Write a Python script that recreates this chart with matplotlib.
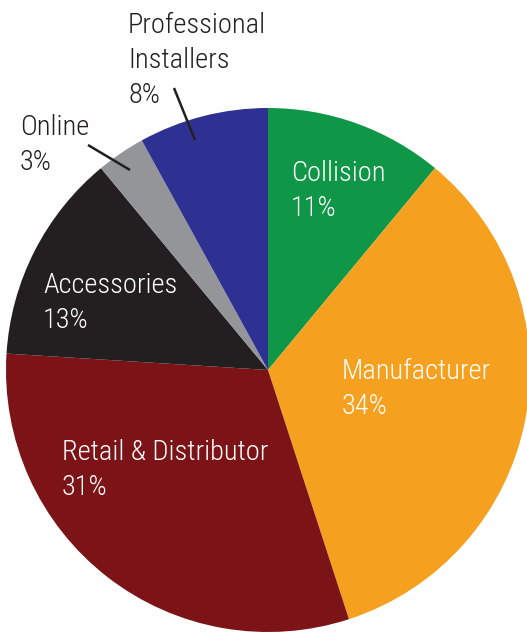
import matplotlib
matplotlib.use("Agg")
import matplotlib.pyplot as plt
from matplotlib import font_manager

# data
categories = ["Collision", "Manufacturer", "Retail & Distributor",
              "Accessories", "Online", "Professional\nInstallers"]
shares = [11, 34, 31, 13, 3, 8]
colors = ["#109647", "#F5A11F", "#7C1316", "#231F20", "#939598", "#2E3192"]

# label placement in pixel coords (x, first baseline y from top), text colour
label_pos = [(291, 181), (342, 379), (62, 460), (43, 293), (20, 135), (128, 33)]
label_col = ["white", "white", "white", "white", "#231F20", "#231F20"]
LINE_STEP = 35  # px between baselines
# leader lines for outside labels: (x0, y0, x1, y1) pixels from top
leaders = {4: (88, 145, 130, 170), 5: (174, 88, 195, 140)}

names = {f.name for f in font_manager.fontManager.ttflist}
family = [f for f in ["Roboto Condensed", "Archivo Narrow"] if f in names] + ["DejaVu Sans"]
plt.rcParams["font.family"] = family

W, H = 527, 632
fig = plt.figure(figsize=(W / 100, H / 100), dpi=100)
ax = fig.add_axes([0, 0, 1, 1])

ax.pie(shares, colors=colors, startangle=90, counterclock=False,
       center=(268, H - 370), radius=262,
       wedgeprops=dict(linewidth=0))

# pie() resets the limits, so set them afterwards
ax.set_xlim(0, W)
ax.set_ylim(0, H)
ax.set_aspect("equal")
ax.axis("off")

for i, (name, pct) in enumerate(zip(categories, shares)):
    x, y = label_pos[i]
    lines = name.split("\n") + [f"{pct}%"]
    for k, line in enumerate(lines):
        ax.text(x, H - (y + k * LINE_STEP), line, color=label_col[i],
                fontsize=20.5, fontweight="light", ha="left", va="baseline")

for i, (x0, y0, x1, y1) in leaders.items():
    ax.plot([x0, x1], [H - y0, H - y1], color="#231F20", lw=1.8,
            solid_capstyle="butt")

fig.savefig("out.png", dpi=100)
